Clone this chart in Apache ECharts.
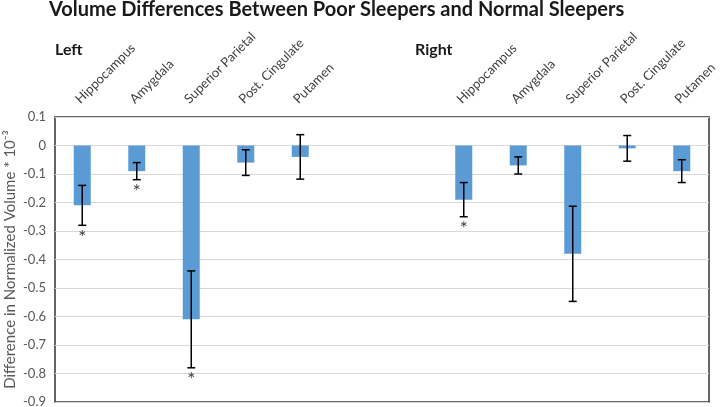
<!DOCTYPE html>
<html>
<head>
<meta charset="utf-8">
<script src="https://cdn.jsdelivr.net/npm/echarts@6/dist/echarts.min.js"></script>
<style>html,body{margin:0;padding:0;background:#fff;}#c{width:721px;height:407px;}</style>
</head>
<body>
<div id="c"></div>
<script>
var regions = ['Hippocampus', 'Amygdala', 'Superior Parietal', 'Post. Cingulate', 'Putamen'];
var leftValues = [-0.21, -0.09, -0.61, -0.06, -0.04];
var leftErrors = [0.07, 0.03, 0.17, 0.045, 0.078];
var leftSig = [true, true, true, false, false];
var rightValues = [-0.19, -0.07, -0.38, -0.01, -0.09];
var rightErrors = [0.06, 0.03, 0.167, 0.045, 0.04];
var rightSig = [true, false, false, false, false];
var gapCount = 2;
var yTicks = { min: -0.9, max: 0.1, step: 0.1 };

var categories = regions.concat(new Array(gapCount).fill(''), regions);
var values = leftValues.concat(new Array(gapCount).fill('-'), rightValues);
var errData = [];
leftValues.forEach(function (v, i) { errData.push([i, v, leftErrors[i], leftSig[i] ? 1 : 0]); });
rightValues.forEach(function (v, i) { errData.push([i + regions.length + gapCount, v, rightErrors[i], rightSig[i] ? 1 : 0]); });

var FONT = 'Lato, "Open Sans", "DejaVu Sans", sans-serif';
var chart = echarts.init(document.getElementById('c'), null, { renderer: 'canvas' });
chart.setOption({
  animation: false,
  backgroundColor: '#fff',
  title: [
    { text: 'Volume Differences Between Poor Sleepers and Normal Sleepers', left: 44, top: -5,
      textStyle: { fontFamily: FONT, fontSize: 20, fontWeight: 'bold', color: '#1a1a1a' } },
    { text: 'Left', left: 50, top: 37, textStyle: { fontFamily: FONT, fontSize: 16, fontWeight: 'bold', color: '#1a1a1a' } },
    { text: 'Right', left: 410, top: 37, textStyle: { fontFamily: FONT, fontSize: 16, fontWeight: 'bold', color: '#1a1a1a' } }
  ],
  grid: { left: 55, right: 12, top: 117, bottom: 5, containLabel: false, outerBoundsMode: 'none',
    show: true, borderColor: '#333', borderWidth: 1.5, backgroundColor: 'transparent' },
  xAxis: {
    type: 'category', position: 'top', data: categories,
    axisLine: { show: false, onZero: false }, axisTick: { show: false },
    axisLabel: { rotate: -45, interval: 0, margin: 11, verticalAlign: 'bottom', fontFamily: FONT, fontSize: 13, color: '#404040' },
    splitLine: { show: false }
  },
  yAxis: {
    type: 'value', min: yTicks.min, max: yTicks.max, interval: yTicks.step,
    name: 'Difference in Normalized Volume * 10⁻³', nameLocation: 'middle', nameGap: 37, nameMoveOverlap: false,
    nameTextStyle: { fontFamily: FONT, fontSize: 15, color: '#595959' },
    axisLine: { show: false }, axisTick: { show: false },
    axisLabel: { fontFamily: FONT, fontSize: 13, color: '#595959', margin: 9 },
    splitLine: { show: true, lineStyle: { color: '#d9d9d9', width: 1 } }
  },
  series: [
    { type: 'bar', data: values, barWidth: 17, itemStyle: { color: '#5b9bd5' }, z: 2 },
    { type: 'custom', data: errData, z: 5,
      renderItem: function (params, api) {
        var x = api.value(0), v = api.value(1), e = api.value(2), sig = api.value(3);
        var hi = api.coord([x, v + e]);
        var lo = api.coord([x, v - e]);
        var cap = 4;
        var st = { stroke: '#000', lineWidth: 1.5 };
        var children = [
          { type: 'line', shape: { x1: hi[0], y1: hi[1], x2: lo[0], y2: lo[1] }, style: st },
          { type: 'line', shape: { x1: hi[0] - cap, y1: hi[1], x2: hi[0] + cap, y2: hi[1] }, style: st },
          { type: 'line', shape: { x1: lo[0] - cap, y1: lo[1], x2: lo[0] + cap, y2: lo[1] }, style: st }
        ];
        if (sig) {
          children.push({ type: 'text', style: { text: '*', x: lo[0], y: lo[1] + 3, textAlign: 'center', textVerticalAlign: 'top',
            fontFamily: FONT, fontSize: 19, fill: '#404040' } });
        }
        return { type: 'group', children: children };
      }
    }
  ]
});
</script>
</body>
</html>
